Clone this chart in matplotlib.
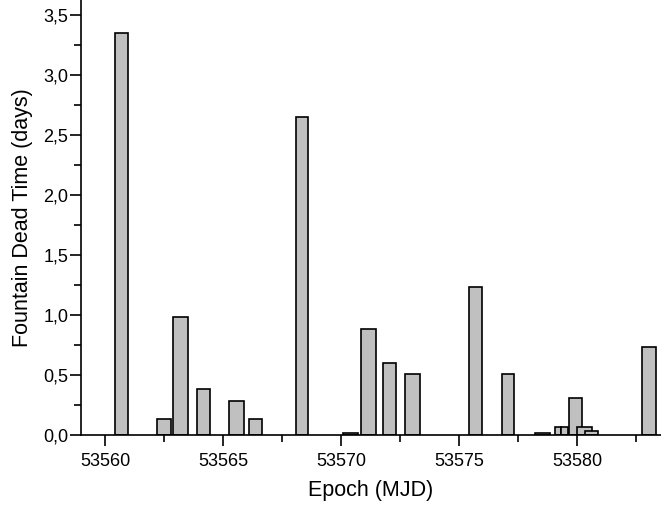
import matplotlib
matplotlib.use('Agg')
import matplotlib.pyplot as plt
from matplotlib.ticker import MultipleLocator, FuncFormatter

plt.rcParams['font.family'] = ['Liberation Sans', 'DejaVu Sans']

# Начало интервала (MJD), длительность столбца и мёртвое время (дни)
epoch_start = [53560.42, 53562.22, 53562.89, 53563.91, 53565.27, 53566.10,
               53568.08, 53570.09, 53570.86, 53571.79, 53572.73, 53575.44,
               53576.81, 53578.21, 53579.08, 53579.33, 53579.66, 53580.01,
               53580.35, 53582.74]
bar_width = [0.54, 0.59, 0.61, 0.53, 0.61, 0.55,
             0.51, 0.62, 0.61, 0.53, 0.61, 0.53,
             0.51, 0.65, 0.25, 0.31, 0.54, 0.61,
             0.53, 0.59]
dead_time = [3.35, 0.13, 0.98, 0.38, 0.28, 0.13,
             2.65, 0.015, 0.88, 0.60, 0.51, 1.23,
             0.51, 0.017, 0.067, 0.067, 0.31, 0.067,
             0.03, 0.73]

fig = plt.figure(figsize=(6.61, 5.08), dpi=100)
ax = fig.add_axes([0.1225, 0.1437, 0.8775, 0.8563])

ax.bar(epoch_start, dead_time, width=bar_width, align='edge',
       color='#c0c0c0', edgecolor='black', linewidth=1.2)

ax.set_xlim(53558.98, 53583.56)
ax.set_ylim(0, 3.625)

ax.xaxis.set_major_locator(MultipleLocator(5))
ax.xaxis.set_minor_locator(MultipleLocator(2.5))
ax.yaxis.set_major_locator(MultipleLocator(0.5))
ax.yaxis.set_minor_locator(MultipleLocator(0.25))
ax.yaxis.set_major_formatter(FuncFormatter(lambda v, p: f"{v:.1f}".replace('.', ',')))
ax.xaxis.set_major_formatter(FuncFormatter(lambda v, p: f"{v:.0f}"))

for s in ['top', 'right']:
    ax.spines[s].set_visible(False)
for s in ['left', 'bottom']:
    ax.spines[s].set_linewidth(1.2)

ax.tick_params(which='major', direction='out', length=8, width=1.2, labelsize=13)
ax.tick_params(which='minor', direction='out', length=5, width=1.2)
ax.tick_params(axis='y', which='major', pad=1)
ax.tick_params(axis='x', which='major', pad=5)

ax.set_xlabel('Epoch (MJD)', fontsize=15.5, labelpad=7)
ax.set_ylabel('Fountain Dead Time (days)', fontsize=15.5, labelpad=7.5)

fig.savefig('out.png', dpi=100)
